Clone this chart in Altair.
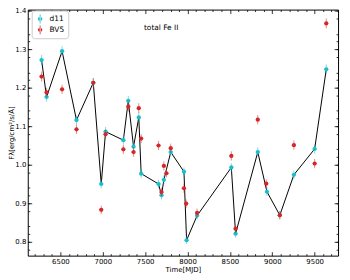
import altair as alt
import pandas as pd

# ---- data ----
t_d11 = [6278, 6337, 6520, 6690, 6888, 6982, 7033, 7243, 7301, 7363, 7425, 7453,
         7658, 7693, 7721, 7802, 7958, 7989, 8113, 8517, 8567, 8829, 8937, 9089,
         9255, 9500, 9637]
f_d11 = [1.272, 1.176, 1.295, 1.116, 1.213, 0.950, 1.086, 1.064, 1.166, 1.047, 1.123, 0.977,
         0.950, 0.921, 0.961, 1.033, 0.982, 0.804, 0.868, 0.993, 0.821, 1.033, 0.930, 0.869,
         0.974, 1.041, 1.248]
e_d11 = [0.013, 0.012, 0.013, 0.012, 0.012, 0.011, 0.012, 0.011, 0.013, 0.012, 0.012, 0.011,
         0.011, 0.011, 0.011, 0.012, 0.011, 0.010, 0.010, 0.011, 0.010, 0.012, 0.011, 0.010,
         0.011, 0.012, 0.013]

t_bv5 = [6278, 6337, 6520, 6690, 6888, 6982, 7033, 7243, 7301, 7363, 7425, 7453,
         7658, 7693, 7721, 7751, 7802, 7958, 7984, 8113, 8517, 8567, 8829, 8929,
         9089, 9255, 9500, 9637]
f_bv5 = [1.229, 1.188, 1.196, 1.092, 1.213, 0.883, 1.079, 1.040, 1.151, 1.033, 1.147, 1.068,
         1.050, 0.929, 0.997, 0.978, 1.043, 0.939, 0.899, 0.875, 1.023, 0.834, 1.117, 0.951,
         0.869, 1.051, 1.003, 1.367]
e_bv5 = [0.013, 0.012, 0.012, 0.012, 0.012, 0.011, 0.012, 0.012, 0.013, 0.012, 0.013, 0.012,
         0.012, 0.011, 0.012, 0.011, 0.012, 0.012, 0.011, 0.011, 0.012, 0.011, 0.012, 0.011,
         0.011, 0.012, 0.012, 0.013]

time_err = 25  # half-width of horizontal error bars (days)

x_major = [6500, 7000, 7500, 8000, 8500, 9000, 9500]
x_minor = [v for v in range(6200, 9800, 100) if v % 500 != 0]
y_major = [0.8, 0.9, 1.0, 1.1, 1.2, 1.3, 1.4]
y_minor = [round(0.78 + 0.02 * i, 2) for i in range(32) if (i + 1) % 5 != 0]

series_names = ["d11", "BV5"]
series_colors = ["#17becf", "#d62728"]

annot_text = "total Fe II"
annot_t = 7689
annot_f = 1.354


def frame(t, f, e, name):
    return pd.DataFrame({
        "t": t, "f": f,
        "lo": [a - b for a, b in zip(f, e)],
        "hi": [a + b for a, b in zip(f, e)],
        "tlo": [a - time_err for a in t],
        "thi": [a + time_err for a in t],
        "series": name,
    })


d11 = frame(t_d11, f_d11, e_d11, "d11")
bv5 = frame(t_bv5, f_bv5, e_bv5, "BV5")

xs = alt.Scale(domain=[6115, 9776], nice=False, zero=False)
ys = alt.Scale(domain=[0.764, 1.403], nice=False, zero=False)

common = dict(domain=False, grid=False, labelFlush=False, labelOverlap=False)
ax_xb = alt.Axis(orient="bottom", values=x_major, tickSize=4, offset=-4, labelPadding=2,
                 format="d", title="Time[MJD]", titlePadding=1, **common)
ax_xb_m = alt.Axis(orient="bottom", values=x_minor, tickSize=2, offset=-2, labels=False,
                   title=None, **common)
ax_xt = alt.Axis(orient="top", values=x_major, tickSize=4, offset=-4, labels=False,
                 title=None, **common)
ax_xt_m = alt.Axis(orient="top", values=x_minor, tickSize=2, offset=-2, labels=False,
                   title=None, **common)
ax_yl = alt.Axis(orient="left", values=y_major, tickSize=4, offset=-4, labelPadding=2,
                 format=".1f", title="Fλ[erg/cm²/s/Å]", titlePadding=0, **common)
ax_yl_m = alt.Axis(orient="left", values=y_minor, tickSize=2, offset=-2, labels=False,
                   title=None, **common)
ax_yr = alt.Axis(orient="right", values=y_major, tickSize=4, offset=-4, labels=False,
                 title=None, **common)
ax_yr_m = alt.Axis(orient="right", values=y_minor, tickSize=2, offset=-2, labels=False,
                   title=None, **common)

legend_path = ("M-0.5,0 A0.5,0.5 0 1,0 0.5,0 A0.5,0.5 0 1,0 -0.5,0 Z "
               "M-0.09,-1 L0.09,-1 L0.09,1 L-0.09,1 Z")
leg = alt.Legend(orient="none", legendX=4, legendY=1, title=None, symbolType=legend_path,
                 symbolSize=81, labelFontSize=7.5, padding=4, rowPadding=2, labelOffset=5,
                 strokeColor="#cccccc", fillColor="white", cornerRadius=3,
                 symbolStrokeWidth=0)
color = alt.Color("series:N", scale=alt.Scale(domain=series_names, range=series_colors),
                  legend=leg)

line = alt.Chart(d11).mark_line(color="black", strokeWidth=1).encode(
    x=alt.X("t:Q", scale=xs, axis=ax_xb),
    y=alt.Y("f:Q", scale=ys, axis=ax_yl),
)


def layers(df, col, axes):
    ax1, ay1, ax2, ay2 = axes
    ev = alt.Chart(df).mark_rule(color=col, opacity=0.55, strokeWidth=1).encode(
        x=alt.X("t:Q", scale=xs, axis=ax1),
        y=alt.Y("lo:Q", scale=ys, axis=ay1), y2="hi")
    eh = alt.Chart(df).mark_rule(color=col, opacity=0.55, strokeWidth=1).encode(
        x=alt.X("tlo:Q", scale=xs, axis=ax2), x2="thi",
        y=alt.Y("f:Q", scale=ys, axis=ay2))
    pt = alt.Chart(df).mark_point(filled=True, size=18, opacity=1, shape="circle").encode(
        x=alt.X("t:Q", scale=xs, axis=None),
        y=alt.Y("f:Q", scale=ys, axis=None),
        color=color)
    return [ev, eh, pt]


cyan = layers(d11, series_colors[0], (ax_xb_m, ax_yl_m, ax_xt, ax_yr))
red_axes_chart = alt.Chart(bv5).mark_point(opacity=0).encode(
    x=alt.X("t:Q", scale=xs, axis=ax_xt_m),
    y=alt.Y("f:Q", scale=ys, axis=ax_yr_m))
red = layers(bv5, series_colors[1], (None, None, None, None))

annot = alt.Chart(pd.DataFrame({"t": [annot_t], "f": [annot_f], "txt": [annot_text]})).mark_text(
    fontSize=7.5, color="black", align="center", baseline="middle").encode(
    x=alt.X("t:Q", scale=xs, axis=None),
    y=alt.Y("f:Q", scale=ys, axis=None),
    text="txt:N")

chart = alt.layer(line, *cyan, red_axes_chart, *red, annot).resolve_axis(
    x="independent", y="independent"
).properties(
    width=314, height=249,
    autosize=alt.AutoSizeParams(type="none"),
    padding={"left": 20, "top": 0, "right": 4, "bottom": 20},
).configure(font="DejaVu Sans").configure_view(
    stroke="black", strokeWidth=1
).configure_axis(
    labelFont="DejaVu Sans", titleFont="DejaVu Sans", labelFontSize=7, titleFontSize=7,
    titleFontWeight="normal", tickColor="black", labelColor="black", titleColor="black",
    tickWidth=0.8
).configure_legend(labelFont="DejaVu Sans", labelColor="black")

chart.save("out.html", embed_options={"renderer": "svg", "actions": False})
